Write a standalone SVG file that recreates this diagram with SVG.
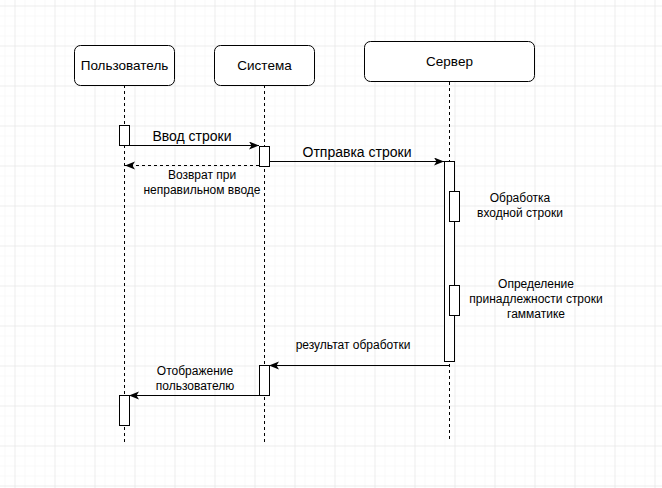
<svg xmlns="http://www.w3.org/2000/svg" width="662" height="488" viewBox="0 0 662 488">
<style>
.box{fill:#ffffff;stroke:#000000;stroke-width:1}
.bar{fill:#ffffff;stroke:#000000;stroke-width:1}
.life{stroke:#000000;stroke-width:1;stroke-dasharray:3,3;fill:none}
.msg{stroke:#000000;stroke-width:1;fill:none}
.ret{stroke:#000000;stroke-width:1;stroke-dasharray:3,3;fill:none}
text{font-family:"Liberation Sans",Arial,sans-serif;font-size:12px;fill:#000000}
.c{text-anchor:middle}
.t{font-size:14px}
.n{font-size:13.5px}
</style>
<defs>
<pattern id="minor" patternUnits="userSpaceOnUse" width="10" height="10" x="4.5" y="5.5">
<path d="M0,0 V10 M0,0 H10" stroke="#f3f3f3" stroke-width="1" fill="none"/>
</pattern>
<pattern id="major" patternUnits="userSpaceOnUse" width="40" height="40" x="14.5" y="5.5">
<path d="M0,0 V40 M0,0 H40" stroke="#e3e3e3" stroke-width="1" fill="none"/>
</pattern>
<marker id="arr" markerUnits="userSpaceOnUse" markerWidth="12" markerHeight="10" refX="10" refY="4" orient="auto">
<path d="M0,0 L10,4 L0,8 L2.5,4 z" fill="#000000"/>
</marker>
</defs>
<rect width="662" height="488" fill="#ffffff"/>
<rect width="662" height="488" fill="url(#minor)"/>
<rect width="662" height="488" fill="url(#major)"/>

<g id="connectors">
<line class="life" x1="124.5" y1="85" x2="124.5" y2="442"/>
<line class="life" x1="264.5" y1="85" x2="264.5" y2="442"/>
<line class="life" x1="449.5" y1="82" x2="449.5" y2="440"/>
<line class="msg" x1="129" y1="145.5" x2="259" y2="145.5" marker-end="url(#arr)"/>
<line class="ret" x1="259" y1="165.5" x2="125" y2="165.5" marker-end="url(#arr)"/>
<line class="msg" x1="269" y1="161.5" x2="444" y2="161.5" marker-end="url(#arr)"/>
<line class="msg" x1="449.5" y1="365.5" x2="269" y2="365.5" marker-end="url(#arr)"/>
<line class="msg" x1="259" y1="395.5" x2="129" y2="395.5" marker-end="url(#arr)"/>
<text class="c t" x="192" y="141">Ввод строки</text>
<text class="c" x="202" y="179">Возврат при</text>
<text class="c" x="202" y="194">неправильном вводе</text>
<text class="c t" x="357" y="157">Отправка строки</text>
<text class="c" x="353" y="349">результат обработки</text>
<text class="c" x="195" y="375">Отображение</text>
<text class="c" x="195" y="390">пользователю</text>
</g>

<g id="user">
<rect class="box" x="74.5" y="45.5" width="100" height="40" rx="6"/>
<text class="c n" x="124.5" y="70">Пользователь</text>
</g>
<g id="system">
<rect class="box" x="214.5" y="45.5" width="100" height="40" rx="6"/>
<text class="c n" x="264.5" y="70">Система</text>
</g>
<g id="server">
<rect class="box" x="364.5" y="41.5" width="170" height="40" rx="6"/>
<text class="c n" x="449.5" y="66">Сервер</text>
</g>

<g id="user-act1"><rect class="bar" x="119.5" y="125.5" width="10" height="20"/></g>
<g id="system-act1"><rect class="bar" x="259.5" y="146.5" width="10" height="20"/></g>
<g id="server-act"><rect class="bar" x="444.5" y="161.5" width="10" height="200"/></g>
<g id="server-proc1">
<rect class="bar" x="449.5" y="191.5" width="10" height="30"/>
<text class="c" x="520" y="202">Обработка</text>
<text class="c" x="520" y="217">входной строки</text>
</g>
<g id="server-proc2">
<rect class="bar" x="449.5" y="285.5" width="10" height="30"/>
<text class="c" x="536" y="288">Определение</text>
<text class="c" x="536" y="303">принадлежности строки</text>
<text class="c" x="536" y="318">гамматике</text>
</g>
<g id="system-act2"><rect class="bar" x="259.5" y="365.5" width="10" height="30"/></g>
<g id="user-act2"><rect class="bar" x="119.5" y="395.5" width="10" height="30"/></g>
</svg>
